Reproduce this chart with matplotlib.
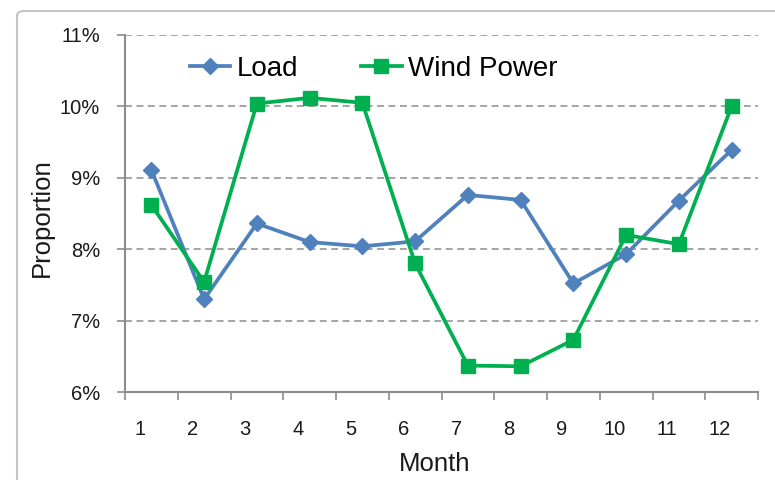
import matplotlib.pyplot as plt
from matplotlib.patches import FancyBboxPatch
from matplotlib.ticker import FixedLocator, FuncFormatter

plt.rcParams['font.family'] = ['Liberation Sans', 'DejaVu Sans']

# ----------- data -----------
months = list(range(1, 13))
month_labels = [str(m) for m in months]
load = [9.11, 7.30, 8.36, 8.10, 8.04, 8.11, 8.76, 8.69, 7.52, 7.93, 8.68, 9.39]
wind = [8.62, 7.54, 10.04, 10.12, 10.05, 7.80, 6.37, 6.36, 6.73, 8.20, 8.07, 10.00]
y_ticks = [6, 7, 8, 9, 10, 11]
# -------- end of data -------

blue = "#4F81BD"
green = "#00B050"
axis_grey = "#8C8C8C"

W, H = 775, 480
fig = plt.figure(figsize=(W / 100, H / 100), dpi=100)

# chart border (rounded, runs off the right/bottom edge)
border = FancyBboxPatch((17 / W, -0.1), 1.2, 1 - 11 / H + 0.1,
                        boxstyle="round,pad=0,rounding_size=0.01",
                        transform=fig.transFigure, facecolor="none",
                        edgecolor="#C4C4C4", linewidth=1.5, zorder=-1)
fig.patches.append(border)

ax = fig.add_axes([125 / W, 1 - 392 / H, (758 - 125) / W, (392 - 35) / H])
ax.patch.set_alpha(0)

ax.plot(months, load, color=blue, lw=2.7, marker="D", ms=8,
        label="Load", zorder=3)
ax.plot(months, wind, color=green, lw=2.7, marker="s", ms=10.5,
        label="Wind Power", zorder=3)

ax.set_xlim(0.5, 12.5)
ax.set_ylim(6, 11)

# y axis
ax.set_yticks(y_ticks)
ax.yaxis.set_major_formatter(FuncFormatter(lambda v, p: f"{v:.0f}%"))
ax.tick_params(axis="y", length=6, width=1.2, color=axis_grey,
               labelsize=14.5, pad=12, labelcolor="#1a1a1a")
ax.grid(axis="y", color="#8C8C8C", linestyle=(0, (4.5, 3)), linewidth=1.1)

# x axis: tick marks between categories, labels slightly left of centre
ax.xaxis.set_minor_locator(FixedLocator([m + 0.5 for m in [0] + months]))
ax.set_xticks([m - 0.22 for m in months])
ax.set_xticklabels(month_labels)
ax.tick_params(axis="x", which="major", length=0, labelsize=14.5, pad=20,
               labelcolor="#1a1a1a")
ax.tick_params(axis="x", which="minor", length=6, width=1.2, color=axis_grey)

for side in ["top", "right"]:
    ax.spines[side].set_visible(False)
for side in ["left", "bottom"]:
    ax.spines[side].set_color(axis_grey)
    ax.spines[side].set_linewidth(1.5)

fig.text(42 / W, 1 - 218 / H, "Proportion", rotation=90, ha="center",
         va="center", fontsize=18.5, color="#1a1a1a")
fig.text(435 / W, 1 - 464 / H, "Month", ha="center", va="center",
         fontsize=18.5, color="#1a1a1a")

ax.legend(loc="center left", bbox_to_anchor=(190 / W, 1 - 69 / H),
          bbox_transform=fig.transFigure, ncol=2, frameon=False,
          fontsize=20, handlelength=1.45, handletextpad=0.25,
          columnspacing=2.25, borderpad=0, borderaxespad=0)

fig.savefig("out.png", dpi=100)
